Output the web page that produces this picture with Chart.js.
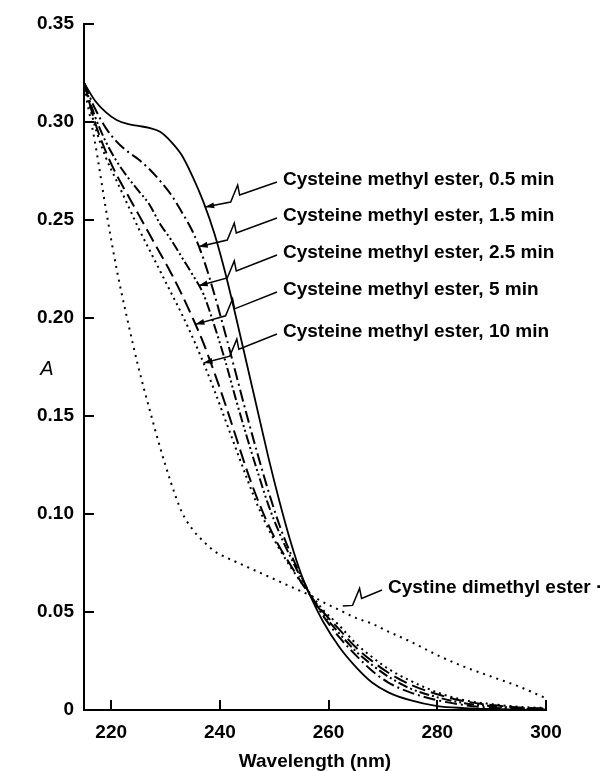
<!DOCTYPE html>
<html>
<head>
<meta charset="utf-8">
<title>Cysteine methyl ester absorbance</title>
<script src="https://cdn.jsdelivr.net/npm/chart.js@4.4.1/dist/chart.umd.min.js"></script>
<style>
  html, body { margin: 0; padding: 0; background: #fff; }
  canvas { display: block; }
</style>
</head>
<body>
<canvas id="spectra" width="602" height="771"></canvas>
<script>
// Wavelength grid (nm) shared by all curves
const wavelengths = [215, 217, 219, 221, 223, 225, 227, 229, 231, 233, 235, 237, 239, 241, 243, 245, 247,
    249, 251, 253, 255, 257, 259, 262, 265, 268, 271, 275, 280, 285, 290, 295, 300];

// Absorbance
const a05min = [0.320, 0.311, 0.305, 0.301, 0.299, 0.298, 0.297, 0.295, 0.290, 0.283, 0.272, 0.259, 0.243,
    0.223, 0.200, 0.176, 0.152, 0.128, 0.106, 0.086, 0.069, 0.056, 0.045, 0.032, 0.022, 0.014, 0.009,
    0.005, 0.002, 0.001, 0.0005, 0.0002, 0];
const a15min = [0.320, 0.307, 0.297, 0.290, 0.285, 0.281, 0.276, 0.270, 0.263, 0.254, 0.244, 0.230, 0.212,
    0.192, 0.171, 0.150, 0.130, 0.111, 0.094, 0.080, 0.068, 0.057, 0.048, 0.037, 0.028, 0.020, 0.014,
    0.009, 0.005, 0.0025, 0.0012, 0.0006, 0.0003];
const a25min = [0.320, 0.303, 0.290, 0.280, 0.272, 0.265, 0.258, 0.248, 0.240, 0.231, 0.222, 0.212, 0.196,
    0.178, 0.158, 0.139, 0.121, 0.104, 0.090, 0.078, 0.067, 0.057, 0.049, 0.039, 0.030, 0.023, 0.017,
    0.011, 0.0065, 0.0035, 0.002, 0.001, 0.0005];
const a5min = [0.320, 0.300, 0.285, 0.273, 0.263, 0.253, 0.243, 0.233, 0.223, 0.212, 0.200, 0.187, 0.172,
    0.156, 0.139, 0.122, 0.107, 0.094, 0.083, 0.074, 0.065, 0.057, 0.050, 0.041, 0.032, 0.025, 0.019,
    0.013, 0.008, 0.0045, 0.0025, 0.0013, 0.0007];
const a10min = [0.320, 0.298, 0.282, 0.270, 0.258, 0.246, 0.235, 0.224, 0.213, 0.202, 0.190, 0.177, 0.163,
    0.148, 0.133, 0.118, 0.104, 0.092, 0.082, 0.073, 0.065, 0.058, 0.051, 0.043, 0.034, 0.027, 0.021,
    0.015, 0.009, 0.005, 0.003, 0.0016, 0.001];
const cystine = [0.318, 0.290, 0.256, 0.225, 0.199, 0.175, 0.154, 0.134, 0.116, 0.101, 0.092, 0.086, 0.081,
    0.078, 0.0755, 0.073, 0.0705, 0.068, 0.0655, 0.063, 0.0605, 0.058, 0.055, 0.051, 0.047, 0.044, 0.040,
    0.035, 0.028, 0.022, 0.017, 0.012, 0.006];

const seriesLabels = [
    'Cysteine methyl ester, 0.5 min',
    'Cysteine methyl ester, 1.5 min',
    'Cysteine methyl ester, 2.5 min',
    'Cysteine methyl ester, 5 min',
    'Cysteine methyl ester, 10 min',
    'Cystine dimethyl ester'
];

const xTicks = [220, 240, 260, 280, 300];
const yTicks = [0, 0.05, 0.10, 0.15, 0.20, 0.25, 0.30, 0.35];
const yTickLabels = ['0', '0.05', '0.10', '0.15', '0.20', '0.25', '0.30', '0.35'];

const FONT = '"Liberation Sans", Arial, sans-serif';

// linear lookup on a series, used to put arrow tips on the curves
function valueAt(arr, nm) {
    for (let i = 1; i < wavelengths.length; i++) {
        if (nm <= wavelengths[i]) {
            const t = (nm - wavelengths[i - 1]) / (wavelengths[i] - wavelengths[i - 1]);
            return arr[i - 1] + t * (arr[i] - arr[i - 1]);
        }
    }
    return arr[arr.length - 1];
}

// callouts: text position in pixels, tip on the curve at tipNm
const callouts = [
    { text: seriesLabels[0], series: a05min, tipNm: 237.3, tx: 283, ty: 180, arrow: true },
    { text: seriesLabels[1], series: a15min, tipNm: 236.1, tx: 283, ty: 216, arrow: true },
    { text: seriesLabels[2], series: a25min, tipNm: 236.1, tx: 283, ty: 253, arrow: true },
    { text: seriesLabels[3], series: a5min, tipNm: 235.5, tx: 283, ty: 290, arrow: true },
    { text: seriesLabels[4], series: a10min, tipNm: 237.0, tx: 283, ty: 332, arrow: true },
    { text: seriesLabels[5] + ' \u00b7', series: null, tipNm: 262.6, tipA: 0.053, tx: 388, ty: 588, arrow: false }
];

const decorPlugin = {
    id: 'decor',
    afterDraw(chart) {
        const { ctx, chartArea, scales } = chart;
        const x = scales.x, y = scales.y;
        ctx.save();
        ctx.strokeStyle = '#000';
        ctx.fillStyle = '#000';

        // inward tick marks
        ctx.lineWidth = 2;
        ctx.beginPath();
        xTicks.forEach(v => {
            const px = Math.round(x.getPixelForValue(v));
            ctx.moveTo(px, chartArea.bottom);
            ctx.lineTo(px, chartArea.bottom - 10);
        });
        yTicks.forEach(v => {
            const py = Math.round(y.getPixelForValue(v));
            ctx.moveTo(chartArea.left, py);
            ctx.lineTo(chartArea.left + 10, py);
        });
        ctx.stroke();

        // labels with zigzag leaders
        ctx.font = 'bold 19px ' + FONT;
        ctx.textBaseline = 'middle';
        ctx.textAlign = 'left';
        callouts.forEach(c => {
            const a = c.series ? valueAt(c.series, c.tipNm) : c.tipA;
            const T = { x: x.getPixelForValue(c.tipNm), y: y.getPixelForValue(a) };
            const S = { x: c.tx - 6, y: c.ty + 2 };
            const P = { x: S.x + 0.52 * (T.x - S.x), y: S.y + 0.52 * (T.y - S.y) };
            const Q = { x: P.x - 2, y: P.y - 10 };
            const R = { x: Q.x - 7, y: Q.y + 17 };
            ctx.lineWidth = 1.5;
            ctx.beginPath();
            ctx.moveTo(S.x, S.y);
            ctx.lineTo(P.x, P.y);
            ctx.lineTo(Q.x, Q.y);
            ctx.lineTo(R.x, R.y);
            ctx.lineTo(T.x, T.y);
            ctx.stroke();
            if (c.arrow) {
                const ang = Math.atan2(T.y - R.y, T.x - R.x);
                ctx.beginPath();
                ctx.moveTo(T.x, T.y);
                ctx.lineTo(T.x - 9 * Math.cos(ang) + 3 * Math.sin(ang), T.y - 9 * Math.sin(ang) - 3 * Math.cos(ang));
                ctx.lineTo(T.x - 9 * Math.cos(ang) - 3 * Math.sin(ang), T.y - 9 * Math.sin(ang) + 3 * Math.cos(ang));
                ctx.closePath();
                ctx.fill();
            }
            ctx.fillText(c.text, c.tx, c.ty);
        });

        // axis titles
        ctx.font = 'italic 20px ' + FONT;
        ctx.textAlign = 'center';
        ctx.fillText('A', 47, 369);
        ctx.font = 'bold 19px ' + FONT;
        ctx.fillText('Wavelength (nm)', (chartArea.left + chartArea.right) / 2, 762);
        ctx.restore();
    }
};

function series(label, values, dash, width) {
    return {
        label: label,
        data: wavelengths.map((w, i) => ({ x: w, y: values[i] })),
        borderColor: '#000',
        borderWidth: width,
        borderDash: dash,
        pointRadius: 0,
        cubicInterpolationMode: 'monotone',
        fill: false
    };
}

const ctx = document.getElementById('spectra').getContext('2d');
new Chart(ctx, {
    type: 'line',
    data: {
        datasets: [
            series(seriesLabels[0], a05min, [], 1.8),
            series(seriesLabels[1], a15min, [12, 4, 2, 4], 2),
            series(seriesLabels[2], a25min, [10, 3, 2, 3, 2, 3], 2),
            series(seriesLabels[3], a5min, [14, 6], 2),
            series(seriesLabels[4], a10min, [2, 4], 2),
            series(seriesLabels[5], cystine, [2, 5], 2)
        ]
    },
    options: {
        responsive: false,
        animation: false,
        events: [],
        layout: { padding: { top: 24, right: 56, left: 0, bottom: 0 } },
        plugins: { legend: { display: false }, tooltip: { enabled: false } },
        scales: {
            x: {
                type: 'linear',
                min: 215,
                max: 300,
                afterBuildTicks: s => { s.ticks = xTicks.map(v => ({ value: v })); },
                afterFit: s => { s.height = 61; },
                grid: { display: false, drawTicks: false },
                border: { display: true, color: '#000', width: 2 },
                ticks: { padding: 11, color: '#000', font: { family: FONT, size: 19, weight: 'bold' }, maxRotation: 0,
                    autoSkip: false, callback: v => String(v) }
            },
            y: {
                min: 0,
                max: 0.35,
                afterBuildTicks: s => { s.ticks = yTicks.map(v => ({ value: v })); },
                afterFit: s => { s.width = 84; },
                grid: { display: false, drawTicks: false },
                border: { display: true, color: '#000', width: 2 },
                ticks: { padding: 10, color: '#000', font: { family: FONT, size: 19, weight: 'bold' }, autoSkip: false,
                    callback: (v, i) => yTickLabels[i] }
            }
        }
    },
    plugins: [decorPlugin]
});
</script>
</body>
</html>
